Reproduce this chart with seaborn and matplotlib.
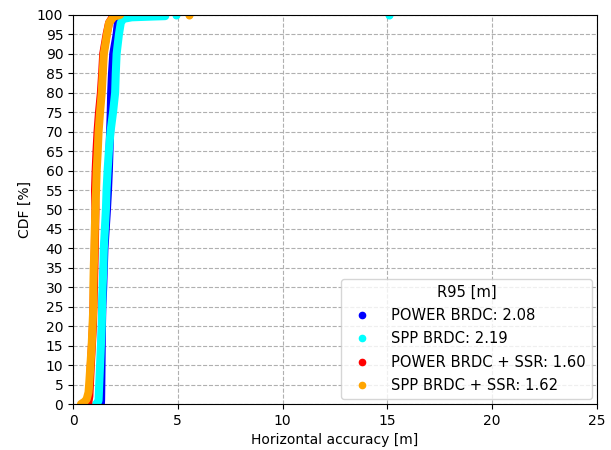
import matplotlib
matplotlib.use("Agg")
import matplotlib.pyplot as plt
from matplotlib.lines import Line2D
import seaborn as sns
import pandas as pd

# ---- data ----
# POWER BRDC
blue_pct = [0, 1, 5, 10, 20, 25, 30, 40, 50, 55, 60, 65, 70, 75, 80, 85, 90, 95, 98, 100]
blue_err = [1.33, 1.34, 1.35, 1.36, 1.38, 1.40, 1.44, 1.50, 1.62, 1.67, 1.71, 1.74, 1.77, 1.80, 1.82, 1.86, 1.92, 2.08, 2.14, 2.30]

# SPP BRDC
cyan_pct = [0, 0.6, 1, 5, 10, 15, 20, 25, 30, 35, 40, 45, 50, 55, 60, 65, 70, 75, 80, 85, 90, 95, 98, 99, 99.4, 99.6, 99.7]
cyan_err = [1.10, 1.20, 1.22, 1.25, 1.29, 1.33, 1.37, 1.39, 1.41, 1.45, 1.47, 1.52, 1.57, 1.60, 1.65, 1.71, 1.79, 1.91, 2.01, 2.04, 2.08, 2.19, 2.28, 2.40, 2.80, 3.80, 4.40]
cyan_out_err = [4.9, 15.1]
cyan_out_pct = [100, 100]

# POWER BRDC + SSR
red_pct = [0, 2, 10, 20, 30, 40, 50, 55, 60, 65, 70, 75, 80, 85, 90, 95, 98, 100]
red_err = [0.72, 0.78, 0.85, 0.95, 1.00, 1.04, 1.07, 1.05, 1.08, 1.12, 1.17, 1.24, 1.33, 1.39, 1.44, 1.60, 1.72, 1.95]

# SPP BRDC + SSR
orange_pct = [0, 0.6, 1.2, 3, 5, 10, 15, 20, 25, 30, 35, 40, 45, 50, 55, 60, 65, 70, 75, 80, 85, 90, 95, 98, 99.6, 100]
orange_err = [0.38, 0.55, 0.65, 0.74, 0.77, 0.83, 0.89, 0.93, 0.97, 0.97, 0.99, 1.02, 1.04, 1.07, 1.10, 1.13, 1.18, 1.22, 1.29, 1.37, 1.42, 1.47, 1.62, 1.72, 1.95, 2.25]
orange_out_err = [5.55]
orange_out_pct = [100]

labels = ["POWER BRDC: 2.08", "SPP BRDC: 2.19", "POWER BRDC + SSR: 1.60", "SPP BRDC + SSR: 1.62"]
colors = ["blue", "cyan", "red", "orange"]

x_ticks = [0, 5, 10, 15, 20, 25]
y_ticks = list(range(0, 101, 5))

# ---- plot ----
fig = plt.figure(figsize=(6.11, 4.5), dpi=100)
ax = fig.add_axes([0.1195, 0.1022, 0.8575, 0.8645])

series = [(blue_err, blue_pct), (cyan_err, cyan_pct), (red_err, red_pct), (orange_err, orange_pct)]
for (e, p), c in zip(series, colors):
    df = pd.DataFrame({"err": e, "pct": p})
    sns.lineplot(data=df, x="err", y="pct", sort=False, estimator=None, color=c,
                 linewidth=5.8, solid_capstyle="round", solid_joinstyle="round", ax=ax)

sns.scatterplot(x=cyan_out_err, y=cyan_out_pct, color="cyan", s=33, linewidth=0, ax=ax)
sns.scatterplot(x=orange_out_err, y=orange_out_pct, color="orange", s=33, linewidth=0, ax=ax)

ax.set_xlim(0, 25)
ax.set_ylim(0, 100)
ax.set_xticks(x_ticks)
ax.set_yticks(y_ticks)
ax.grid(True, linestyle="--", color="#b0b0b0", linewidth=0.8)
ax.set_axisbelow(True)
ax.set_xlabel("Horizontal accuracy [m]")
ax.set_ylabel("CDF [%]")

handles = [Line2D([], [], linestyle="none", marker="o", markersize=4.5, color=c) for c in colors]
ax.legend(handles, labels, title="R95 [m]", loc="lower right", fontsize=10.6, title_fontsize=10.6,
          labelspacing=0.56, handletextpad=1.0, borderaxespad=0.35)

fig.savefig("out.png", dpi=100)
